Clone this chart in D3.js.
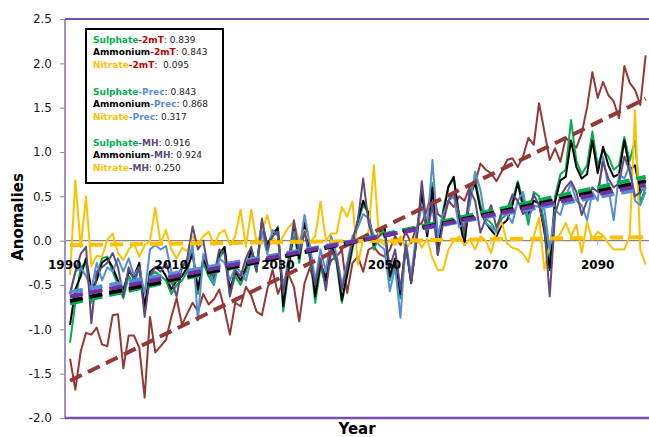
<!DOCTYPE html>
<html>
<head>
<meta charset="utf-8">
<script src="https://cdn.jsdelivr.net/npm/d3@7"></script>
<style>
  body { margin: 0; background: #fff; }
  svg { display: block; font-family: "DejaVu Sans", sans-serif; }
</style>
</head>
<body>
<svg id="chart" width="649" height="437"></svg>
<script>
  // categories
  var years = d3.range(1991, 2100)
  var tickYears = [1990, 2010, 2030, 2050, 2070, 2090]
  var yTicks = [2.5, 2.0, 1.5, 1.0, 0.5, 0.0, -0.5, -1.0, -1.5, -2.0]

  // anomaly series (1991-2099)
  var temp2mT = [
    -1.33, -1.68, -1.25, -1.04, -1.06, -0.98, -1.17, -1.19, -0.84, -0.83,
    -1.44, -1.07, -1.07, -1.21, -1.77, -0.86, -1.26, -1.19, -1.12, -0.86,
    -0.65, -0.95, -0.82, -0.70, -0.80, -0.60, -0.72, -0.66, -0.55, -0.78,
    -1.06, -0.70, -0.74, -0.52, -0.62, -0.80, -0.84, -0.55, -0.33, -0.60,
    -0.45, -0.38, -0.52, -0.91, -0.48, -0.30, -0.52, -0.27, -0.40, -0.22,
    -0.18, -0.10, -0.59, -0.25, -0.18, -0.35, -0.10, -0.07, -0.15, -0.18,
    -0.10, 0.05, -0.05, 0.10, -0.03, 0.16, 0.20, 0.35, 0.57, 0.30,
    0.25, 0.45, 0.38, 0.50, 0.45, 0.61, 0.65, 0.87, 0.80, 0.76,
    0.67, 0.78, 0.91, 0.93, 0.83, 0.95, 1.16, 1.08, 1.55, 1.23,
    0.91, 1.04, 0.89, 1.16, 1.10, 1.05, 1.21, 1.50, 1.90, 1.61,
    1.79, 1.64, 1.57, 1.38, 1.97, 1.78, 1.70, 1.53, 2.09
  ]
  var sulphate = [
    -1.15, -0.70, -0.30, -0.25, -0.70, -0.40, -0.20, -0.18, -0.35, -0.50,
    -0.65, -0.40, -0.50, -0.30, -0.80, -0.40, -0.35, -0.40, -0.45, -0.60,
    -0.50, -0.45, -0.35, -0.10, -0.60, -0.25, -0.40, -0.50, -0.20, -0.10,
    -0.60, -0.40, -0.50, -0.35, -0.15, -0.35, 0.15, -0.10, 0.05, 0.16,
    -0.80, -0.35, 0.10, -0.25, 0.15, -0.15, -0.70, -0.30, -0.50, -0.10,
    -0.25, -0.70, -0.40, -0.10, 0.20, 0.40, 0.31, -0.10, 0.05, 0.15,
    -0.45, -0.25, -0.65, -0.08, -0.45, 0.05, 0.60, 0.05, 0.65, -0.10,
    0.35, 0.61, 0.70, 0.30, 0.05, 0.55, 0.70, 0.40, 0.25, 0.20,
    0.10, 0.25, 0.30, 0.45, 0.67, 0.45, 0.18, 0.55, 0.50, 0.20,
    -0.25, 0.50, 0.75, 0.80, 1.36, 0.90, 0.75, 0.85, 1.23, 0.85,
    1.02, 0.95, 0.80, 0.85, 1.17, 0.90, 1.13, 0.43, 0.60
  ]
  var ammonium = [
    -0.95, -0.55, -0.40, -0.20, -0.55, -0.45, -0.25, -0.20, -0.30, -0.45,
    -0.55, -0.35, -0.40, -0.25, -0.75, -0.35, -0.30, -0.30, -0.40, -0.55,
    -0.45, -0.40, -0.30, -0.15, -0.55, -0.20, -0.35, -0.45, -0.15, -0.07,
    -0.55, -0.35, -0.45, -0.30, -0.10, -0.30, 0.21, -0.05, 0.08, 0.14,
    -0.74, -0.30, 0.15, -0.20, 0.20, -0.10, -0.63, -0.25, -0.45, -0.05,
    -0.20, -0.67, -0.37, -0.05, 0.23, 0.45, 0.31, -0.05, 0.10, 0.16,
    -0.40, -0.20, -0.60, -0.03, -0.48, 0.00, 0.55, 0.05, 0.60, -0.16,
    0.30, 0.61, 0.72, 0.25, -0.05, 0.50, 0.65, 0.35, 0.20, 0.12,
    0.05, 0.18, 0.23, 0.40, 0.65, 0.38, 0.30, 0.45, 0.42, 0.10,
    -0.33, 0.44, 0.68, 0.72, 1.13, 0.83, 0.70, 0.75, 1.13, 0.76,
    1.06, 0.85, 0.72, 0.75, 1.13, 0.80, 0.85, 0.54, 0.68
  ]
  var nitrate = [
    -0.39, 0.68, -0.07, 0.50, -0.29, -0.17, -0.18, 0.01, 0.08, -0.14,
    -0.22, -0.10, -0.03, -0.18, -0.05, 0.00, 0.37, -0.03, 0.12, -0.10,
    -0.20, -0.08, -0.12, 0.05, -0.03, 0.05, 0.10, -0.05, 0.08, 0.12,
    -0.05, 0.05, 0.35, -0.07, 0.35, -0.02, 0.10, 0.29, 0.05, -0.05,
    0.05, 0.15, 0.21, 0.00, 0.12, -0.02, 0.05, 0.44, 0.00, 0.08,
    0.08, 0.38, 0.27, 0.44, -0.27, 0.02, 0.10, 0.85, 0.00, -0.05,
    0.00, -0.05, 0.05, -0.10, 0.00, 0.03, -0.08, 0.02, -0.20, -0.33,
    -0.33, -0.10, 0.00, 0.05, -0.05, 0.02, -0.10, 0.05, 0.00, -0.14,
    0.10, 0.21, -0.03, -0.08, -0.10, -0.15, -0.24, 0.05, 0.26, -0.33,
    -0.03, 0.00, 0.08, 0.20, 0.05, 0.18, -0.14, 0.21, 0.01, 0.10,
    0.06, -0.03, -0.10, -0.10, -0.10, 0.05, 1.47, -0.10, -0.27
  ]
  var prec = [
    -0.60, -0.35, -0.30, -0.40, -0.55, -0.25, -0.45, -0.30, -0.35, -0.20,
    -0.35, -0.20, -0.39, -0.30, -0.60, -0.10, -0.05, -0.10, -0.06, -0.35,
    -0.40, -0.30, -0.25, -0.05, -0.90, -0.15, -0.30, -0.48, -0.20, -0.25,
    -0.45, -0.30, -0.35, -0.45, -0.20, -0.25, 0.10, -0.15, 0.12, 0.05,
    -0.55, -0.20, 0.10, -0.10, 0.29, -0.05, -0.45, -0.10, -0.35, 0.05,
    -0.15, -0.50, -0.25, 0.05, 0.15, 0.30, 0.25, 0.05, -0.05, -0.10,
    -0.57, -0.30, -0.87, 0.00, -0.40, 0.10, 0.40, 0.15, 0.91, 0.05,
    0.30, 0.45, 0.50, 0.15, 0.20, 0.40, 0.78, 0.57, 0.20, 0.15,
    0.10, 0.35, 0.30, 0.20, 0.45, 0.55, 0.25, 0.40, 0.38, 0.35,
    -0.10, 0.35, 0.29, 0.50, 0.65, 0.45, 0.40, 0.23, 0.55, 0.45,
    0.95, 0.60, 0.23, 0.75, 0.70, 0.85, 0.45, 0.40, 0.55
  ]
  var mh = [
    -0.60, -0.35, -0.15, -0.07, -0.93, -0.35, -0.30, -0.25, -0.14, -0.30,
    -0.63, -0.30, -0.45, -0.30, -0.86, -0.40, -0.30, -0.35, -0.25, -0.45,
    -0.63, -0.30, -0.20, 0.16, -0.10, 0.00, -0.35, -0.40, -0.10, -0.15,
    -0.63, -0.33, -0.40, -0.20, -0.07, -0.35, 0.25, -0.10, 0.05, 0.10,
    -0.60, -0.25, 0.23, -0.15, 0.10, -0.20, -0.50, -0.20, -0.56, -0.10,
    -0.20, -0.55, -0.30, 0.00, 0.23, 0.70, 0.20, 0.00, 0.05, 0.10,
    -0.30, -0.10, -0.55, -0.05, -0.48, 0.00, 0.67, 0.10, 0.40, -0.16,
    0.20, 0.45, 0.55, 0.30, 0.10, 0.57, 0.45, 0.09, 0.25, 0.40,
    0.15, 0.30, 0.35, 0.52, 0.45, 0.30, 0.35, 0.52, 0.40, 0.15,
    -0.63, 0.30, 0.50, 0.60, 0.67, 0.55, 0.29, 0.45, 0.60, 0.55,
    0.89, 0.70, 0.60, 0.65, 0.95, 0.78, 0.50, 0.55, 0.61
  ]

  // linear trend end values (first year, last year)
  var trendStart = [-1.58, -0.05, -0.71, -0.68, -0.58, -0.63]
  var trendEnd = [1.60, 0.04, 0.72, 0.67, 0.59, 0.63]

  // correlations shown in the legend box
  var corr2mT = ['0.839', '0.843', ' 0.095']
  var corrPrec = ['0.843', '0.868', '0.317']
  var corrMH = ['0.916', '0.924', '0.250']

  var green = '#00B050', black = '#000000', yellow = '#FFC000'
  var brown = '#953735', blue = '#558ED5', purple = '#604A7B'

  var series = [
    { values: temp2mT, color: brown },
    { values: sulphate, color: green },
    { values: ammonium, color: black },
    { values: nitrate, color: yellow },
    { values: prec, color: blue },
    { values: mh, color: purple }
  ]
  // trend order matches trendStart / trendEnd
  var trendColors = [brown, yellow, green, black, blue, '#7030A0']

  var svg = d3.select('#chart')
  var plotLeft = 65, plotTop = 19, plotBottom = 418, plotRight = 651

  var x = d3.scaleLinear().domain([1990, 2100]).range([64.7, plotRight])
  var y = d3.scaleLinear().domain([-2, 2.5]).range([plotBottom, plotTop])

  svg.append('defs').append('clipPath').attr('id', 'plot')
    .append('rect').attr('x', plotLeft).attr('y', plotTop)
    .attr('width', 649 - plotLeft).attr('height', plotBottom - plotTop)

  // y axis ticks + labels
  var yAxis = svg.append('g')
    .attr('transform', 'translate(' + plotLeft + ',0)')
    .call(d3.axisLeft(y).tickValues(yTicks).tickSize(5).tickPadding(8)
      .tickFormat(function(d) { return d.toFixed(1) }))
  yAxis.select('.domain').remove()
  yAxis.selectAll('line').attr('stroke', '#8c8c8c')
  yAxis.selectAll('text').attr('font-size', 12).attr('fill', '#1a1a1a')
    .attr('font-family', '"DejaVu Sans", sans-serif')

  // zero line
  svg.append('line')
    .attr('x1', plotLeft).attr('x2', 649)
    .attr('y1', y(0)).attr('y2', y(0))
    .attr('stroke', '#868686').attr('stroke-width', 1.2)

  svg.selectAll('.xtick').data(tickYears).enter().append('line')
    .attr('x1', function(d) { return x(d) }).attr('x2', function(d) { return x(d) })
    .attr('y1', y(0)).attr('y2', y(0) + 4)
    .attr('stroke', '#b0b0b0')

  var plot = svg.append('g').attr('clip-path', 'url(#plot)')

  var line = d3.line()
    .x(function(d, i) { return x(years[i]) })
    .y(function(d) { return y(d) })

  plot.selectAll('.series').data(series).enter().append('path')
    .attr('d', function(d) { return line(d.values) })
    .attr('fill', 'none')
    .attr('stroke', function(d) { return d.color })
    .attr('stroke-width', 2)
    .attr('stroke-linejoin', 'round')

  // trend lines
  plot.selectAll('.trend').data(trendStart).enter().append('line')
    .attr('x1', x(years[0])).attr('x2', x(years[years.length - 1]))
    .attr('y1', function(d) { return y(d) })
    .attr('y2', function(d, i) { return y(trendEnd[i]) })
    .attr('stroke', function(d, i) { return trendColors[i] })
    .attr('stroke-width', 4)
    .attr('stroke-dasharray', '13,7')

  // x labels sit just under the zero line
  svg.selectAll('.xlab').data(tickYears).enter().append('text')
    .attr('x', function(d) { return x(d) })
    .attr('y', y(0) + 28)
    .attr('text-anchor', 'middle')
    .attr('font-size', 12).attr('font-weight', 'bold')
    .text(function(d) { return d })

  // frame
  svg.append('line').attr('x1', plotLeft).attr('x2', plotLeft).attr('y1', plotTop).attr('y2', plotBottom)
    .attr('stroke', '#a28fc6').attr('stroke-width', 2)
  svg.append('line').attr('x1', plotLeft).attr('x2', 649).attr('y1', plotTop).attr('y2', plotTop)
    .attr('stroke', '#7a4fb0').attr('stroke-width', 2)
  svg.append('line').attr('x1', plotLeft).attr('x2', 649).attr('y1', plotBottom).attr('y2', plotBottom)
    .attr('stroke', '#7a4fb0').attr('stroke-width', 2.5)

  // axis titles
  svg.append('text')
    .attr('transform', 'translate(23,217)rotate(-90)')
    .attr('text-anchor', 'middle')
    .attr('font-size', 15).attr('font-weight', 'bold')
    .text('Anomalies')
  svg.append('text')
    .attr('x', 357).attr('y', 434)
    .attr('text-anchor', 'middle')
    .attr('font-size', 15).attr('font-weight', 'bold')
    .text('Year')

  // legend box
  svg.append('rect')
    .attr('x', 86).attr('y', 29).attr('width', 137).attr('height', 154)
    .attr('fill', '#fff').attr('stroke', '#000').attr('stroke-width', 2)

  var groups = [
    { name: '2mT', color: '#C00000', corr: corr2mT, y0: 42.5 },
    { name: 'Prec', color: blue, corr: corrPrec, y0: 94.5 },
    { name: 'MH', color: purple, corr: corrMH, y0: 145.5 }
  ]
  var species = [['Sulphate', green], ['Ammonium', black], ['Nitrate', yellow]]

  groups.forEach(function(g) {
    species.forEach(function(s, j) {
      var t = svg.append('text')
        .attr('x', 93).attr('y', g.y0 + j * 12.9)
        .attr('font-size', 9).attr('xml:space', 'preserve')
      t.append('tspan').attr('font-weight', 'bold').attr('fill', s[1]).text(s[0])
      t.append('tspan').attr('font-weight', 'bold').attr('fill', g.color).text('-' + g.name)
      t.append('tspan').attr('fill', '#222').text(': ' + g.corr[j])
    })
  })
</script>
</body>
</html>
